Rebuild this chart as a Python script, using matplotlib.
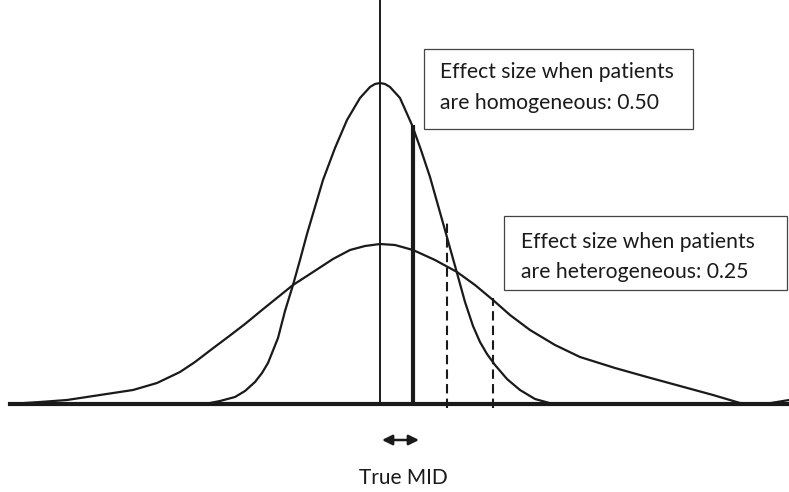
import matplotlib
matplotlib.use("Agg")
import matplotlib.pyplot as plt
from matplotlib.patches import Rectangle

plt.rcParams['font.family'] = ['Lato', 'DejaVu Sans']

# curves (x position, height above the baseline)
narrow_x = [205, 220, 235, 245, 255, 262, 268, 278, 285, 293, 300, 307, 315, 323, 335, 347, 360, 370, 375,
            380, 385, 390, 400, 412, 421, 430, 443, 457, 465, 473, 480, 487, 495, 507, 520, 535, 553]
narrow_y = [0, 3, 7, 13, 22, 31, 41, 66, 93, 119, 144, 170, 197, 224, 256, 284, 306, 317, 320,
            321, 320, 317, 306, 279, 254, 227, 181, 131, 102, 78, 62, 50, 39, 25, 14, 5, 0]

wide_x = [10, 40, 67, 100, 133, 157, 180, 195, 212, 228, 245, 262, 293, 310, 333, 350, 365, 380,
          395, 413, 435, 457, 475, 493, 510, 530, 555, 580, 615, 647, 680, 713, 740, 765, 789]
wide_y = [0, 2, 4, 9, 14, 21, 32, 42, 55, 67, 80, 94, 119, 130, 145, 154, 158, 160,
          159, 154, 144, 132, 119, 104, 89, 74, 59, 47, 36, 27, 18, 9, 1, 0, 4]

baseline_x = [10, 789]

# vertical markers: centre, true MID, effect sizes
centre_x, centre_top = 380, 410
mid_x, mid_top = 413, 279
dash_x = [447, 493]
dash_top = [184, 106]

# MID arrow and label
arrow_x = [382, 419]
arrow_y = -36
label_x, label_y = 403, -74

# text boxes: left, bottom, right, top, text x, line baselines
box_left = [424, 504]
box_bottom = [275, 114]
box_right = [693, 787]
box_top = [355, 188]
text_x = [440, 521]
text_base = [[326, 295], [156, 126]]
box_lines = [["Effect size when patients", "are homogeneous: 0.50"],
             ["Effect size when patients", "are heterogeneous: 0.25"]]

fig = plt.figure(figsize=(7.89, 4.92), dpi=100)
ax = fig.add_axes([0, 0, 1, 1])
ax.set_xlim(0, 789)
ax.set_ylim(-88, 404)
ax.axis('off')

ink = '#1a1a1a'
ax.plot(narrow_x, narrow_y, color=ink, lw=1.6, solid_joinstyle='round')
ax.plot(wide_x, wide_y, color=ink, lw=1.6, solid_joinstyle='round')
ax.plot(baseline_x, [0, 0], color=ink, lw=3)

ax.vlines(centre_x, 0, centre_top, color=ink, lw=1.4)
ax.vlines(mid_x, 0, mid_top, color=ink, lw=3)
for x, top in zip(dash_x, dash_top):
    ax.plot([x, x], [-4, top], color=ink, lw=1.5, dashes=(4.5, 2.5))

ax.annotate('', xy=(arrow_x[1], arrow_y), xytext=(arrow_x[0], arrow_y),
            arrowprops=dict(arrowstyle='<|-|>', color=ink, lw=1.8,
                            mutation_scale=15, shrinkA=0, shrinkB=0))
ax.text(label_x, label_y, "True MID", ha='center', va='center', fontsize=15, color=ink)

for i in range(2):
    ax.add_patch(Rectangle((box_left[i], box_bottom[i]), box_right[i] - box_left[i],
                           box_top[i] - box_bottom[i], fill=False, edgecolor='#444444', lw=0.9))
    for line, base in zip(box_lines[i], text_base[i]):
        ax.text(text_x[i], base, line, ha='left', va='baseline', fontsize=15.2, color=ink)

fig.savefig("out.png", dpi=100)
